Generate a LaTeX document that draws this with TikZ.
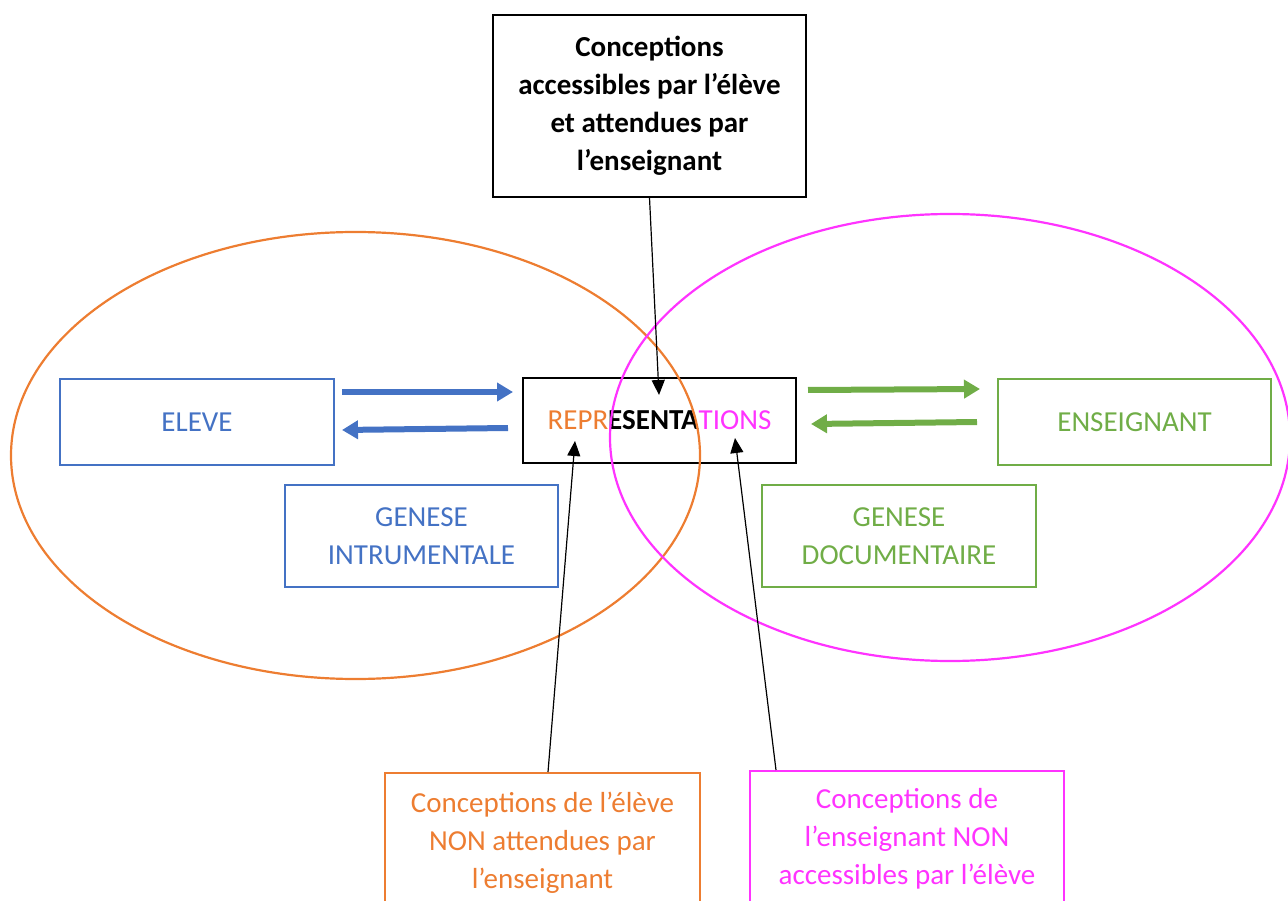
\documentclass[tikz,border=0pt]{standalone}
\usepackage{fontspec}
\setmainfont{Carlito}
\usetikzlibrary{arrows.meta,calc}
\definecolor{cblue}{HTML}{4472C4}
\definecolor{cgreen}{HTML}{70AD47}
\definecolor{corange}{HTML}{ED7D31}
\definecolor{cmag}{HTML}{FF33FF}
\begin{document}
\begin{tikzpicture}[x=1pt,y=-1pt,
  box/.style={draw, line width=2, inner sep=0, align=center, font=\fontsize{29}{38}\selectfont},
  thinarrow/.style={draw=black, line width=1.2, -{Triangle[length=15pt,width=13pt]}},
  fatarrow/.style={line width=6, -{Triangle[length=16pt,width=18pt]}},
  ell/.style={line width=2.2}]
\useasboundingbox (0,0) rectangle (1288,901);
\clip (0,0) rectangle (1288,901);
% boxes
\node[box, draw=black, line width=1.3, minimum width=313, minimum height=182] (top) at (649.5,106)
  {\bfseries Conceptions\\\bfseries accessibles par l’élève\\\bfseries et attendues par\\\bfseries l’enseignant};
\node[box, draw=cblue, text=cblue, minimum width=274, minimum height=86] (eleve) at (197,422) {ELEVE};
\node[box, draw=black, line width=1.3, minimum width=273, minimum height=85] (rep) at (659.5,420.5)
  {{\color{corange}REPR}{\bfseries ESENTA}{\color{cmag}TIONS}};
\node[box, draw=cgreen, text=cgreen, minimum width=273, minimum height=86] (ens) at (1134.5,422) {ENSEIGNANT};
\node[box, draw=cblue, text=cblue, minimum width=273, minimum height=102] (gi) at (421.5,536) {GENESE\\INTRUMENTALE};
\node[box, draw=cgreen, text=cgreen, minimum width=274, minimum height=102] (gd) at (899,536) {GENESE\\DOCUMENTAIRE};
\node[box, draw=corange, text=corange, minimum width=315, minimum height=140] (orbox) at (542.5,843)
  {Conceptions de l’élève\\NON attendues par\\l’enseignant};
\node[box, draw=cmag, text=cmag, minimum width=314, minimum height=136] (mgbox) at (907,839)
  {Conceptions de\\l’enseignant NON\\accessibles par l’élève};
% ellipses
\draw[ell, corange] (355.5,455.5) ellipse [x radius=344.5, y radius=223.5];
\draw[ell, cmag] (950,437.5) ellipse [x radius=340, y radius=223.5];
% coordinates
\coordinate (b1s) at (342,392); \coordinate (b1e) at (513,392);
\coordinate (b2s) at (508,428); \coordinate (b2e) at (342,430);
\coordinate (g1s) at (808,390); \coordinate (g1e) at (980,389);
\coordinate (g2s) at (977,422); \coordinate (g2e) at (811,424);
\coordinate (t1e) at (659,395);
\coordinate (o1e) at (575,441);
\coordinate (m1e) at (735,438);
% arrows
\draw[fatarrow, cblue] (b1s) -- (b1e);
\draw[fatarrow, cblue] (b2s) -- (b2e);
\draw[fatarrow, cgreen] (g1s) -- (g1e);
\draw[fatarrow, cgreen] (g2s) -- (g2e);
\draw[thinarrow] (top.south) -- (t1e);
\draw[thinarrow] ($(orbox.north)+(5.5,0)$) -- (o1e);
\draw[thinarrow] ($(mgbox.north west)+(27,0)$) -- (m1e);
\end{tikzpicture}
\end{document}
